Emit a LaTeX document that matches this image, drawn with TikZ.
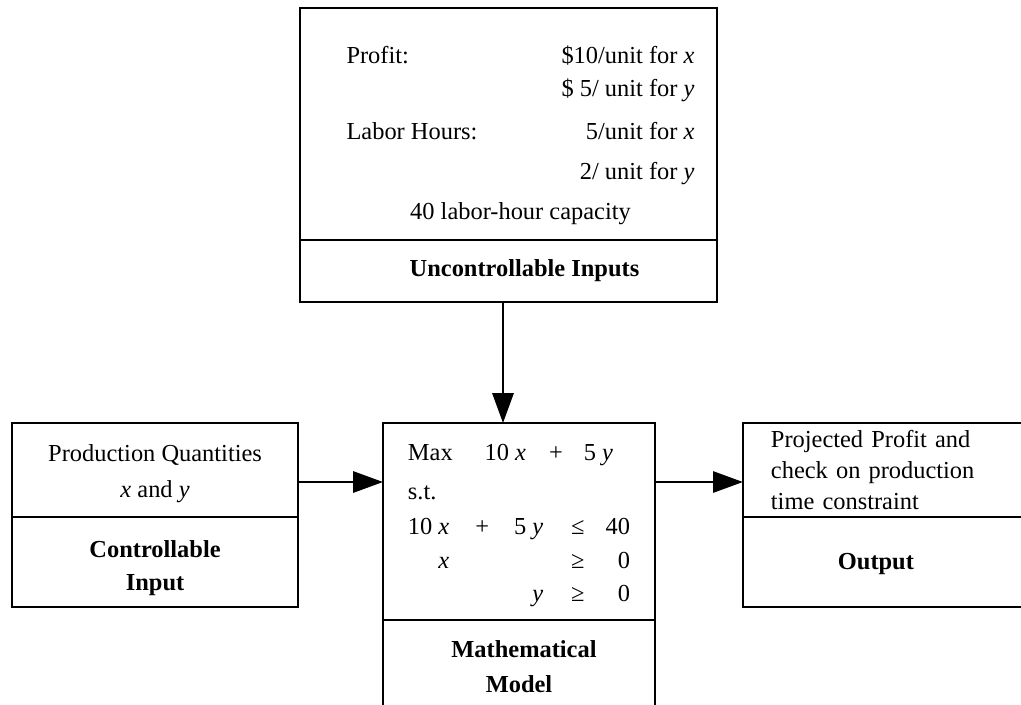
\documentclass[tikz,border=0pt]{standalone}
\usepackage{fontspec}
\setmainfont{Liberation Serif}
\usetikzlibrary{arrows.meta,positioning}

\begin{document}
\begin{tikzpicture}[x=0.02cm,y=-0.02cm,
  part/.style={draw,line width=1.5pt,inner sep=0pt,outer sep=0pt,font=\fontsize{13.9pt}{18.7pt}\selectfont},
  lbl/.style={part,font=\fontsize{13.9pt}{18.7pt}\selectfont\bfseries,align=center},
  ar/.style={-{Triangle[length=17pt,width=12pt]},line width=1.5pt}]
  \useasboundingbox (0,0) rectangle (1021,704);
  % uncontrollable inputs (top)
  \node[part,minimum width=8.34cm,minimum height=4.64cm] (uncIn) at (508.5,124) {\hspace*{0.48cm}%
    \raisebox{-0.22cm}[\height][\depth]{\begin{tabular*}{6.96cm}{@{}l@{\extracolsep{\fill}}r@{}}
      Profit: & \$10/unit for \textit{x}\\
       & \$ 5/ unit for \textit{y}\\[6.2pt]
      Labor Hours: & 5/unit for \textit{x}\\[4pt]
       & 2/ unit for \textit{y}\\[4pt]
      \multicolumn{2}{c}{40 labor-hour capacity}
    \end{tabular*}}};
  \node[lbl,minimum width=8.34cm,minimum height=1.24cm,below=0pt of uncIn] (uncLbl) {\hspace*{0.64cm}Uncontrollable Inputs};
  % mathematical model (middle)
  \node[part,minimum width=5.44cm,minimum height=3.94cm] (mdlIn) at (519,521.5) {%
    \raisebox{-0.06cm}[\height][\depth]{\begin{tabular}{@{}r@{\hspace{0.52cm}}c@{\hspace{0.5cm}}r@{\hspace{0.56cm}}c@{\hspace{0.42cm}}r@{}}
      \multicolumn{5}{@{}l@{}}{Max\hspace{0.64cm}10 \textit{x}\hspace{0.46cm}+\hspace{0.42cm}5 \textit{y}}\\[3.4pt]
      \multicolumn{5}{@{}l@{}}{s.t.}\\[1.1pt]
      10 \textit{x} & + & 5 \textit{y} & ≤ & 40\\[1.1pt]
      \textit{x} & & & ≥ & 0\\
       & & \textit{y} & ≥ & 0
    \end{tabular}}};
  \node[lbl,minimum width=5.44cm,minimum height=1.88cm,below=0pt of mdlIn,
    font=\fontsize{13.9pt}{19.8pt}\selectfont\bfseries] (mdlLbl) {\hspace*{0.2cm}Mathematical\\Model};
  % controllable input (left)
  \node[part,align=center,minimum width=5.72cm,minimum height=1.88cm,left=1.7cm of mdlIn.north west,anchor=north east,
    font=\fontsize{13.9pt}{20.4pt}\selectfont] (ctlIn) {\rule{0pt}{0.5cm}Production Quantities\\\textit{x} and \textit{y}};
  \node[lbl,minimum width=5.72cm,minimum height=1.8cm,below=0pt of ctlIn] (ctlLbl) {\rule{0pt}{0.58cm}Controllable\\Input};
  % output (right)
  \node[part,align=left,text width=5.22cm,minimum width=6.34cm,minimum height=1.88cm,right=1.76cm of mdlIn.north east,anchor=north west,
    font=\fontsize{13.9pt}{17.6pt}\selectfont] (outIn) {Projected Profit and\\check on production\\time constraint};
  \node[lbl,align=left,text width=5.22cm,minimum width=6.34cm,minimum height=1.8cm,below=0pt of outIn] (outLbl) {\rule{0pt}{0.4cm}\hspace*{1.34cm}Output};
  % connectors
  \coordinate (col) at (503,0);
  \coordinate (lvl) at (0,482);
  \draw[ar] (uncLbl.south -| col) -- (mdlIn.north -| col);
  \draw[ar] (ctlIn.east |- lvl) -- (mdlIn.west |- lvl);
  \draw[ar] (mdlIn.east |- lvl) -- (outIn.west |- lvl);
\end{tikzpicture}
\end{document}
